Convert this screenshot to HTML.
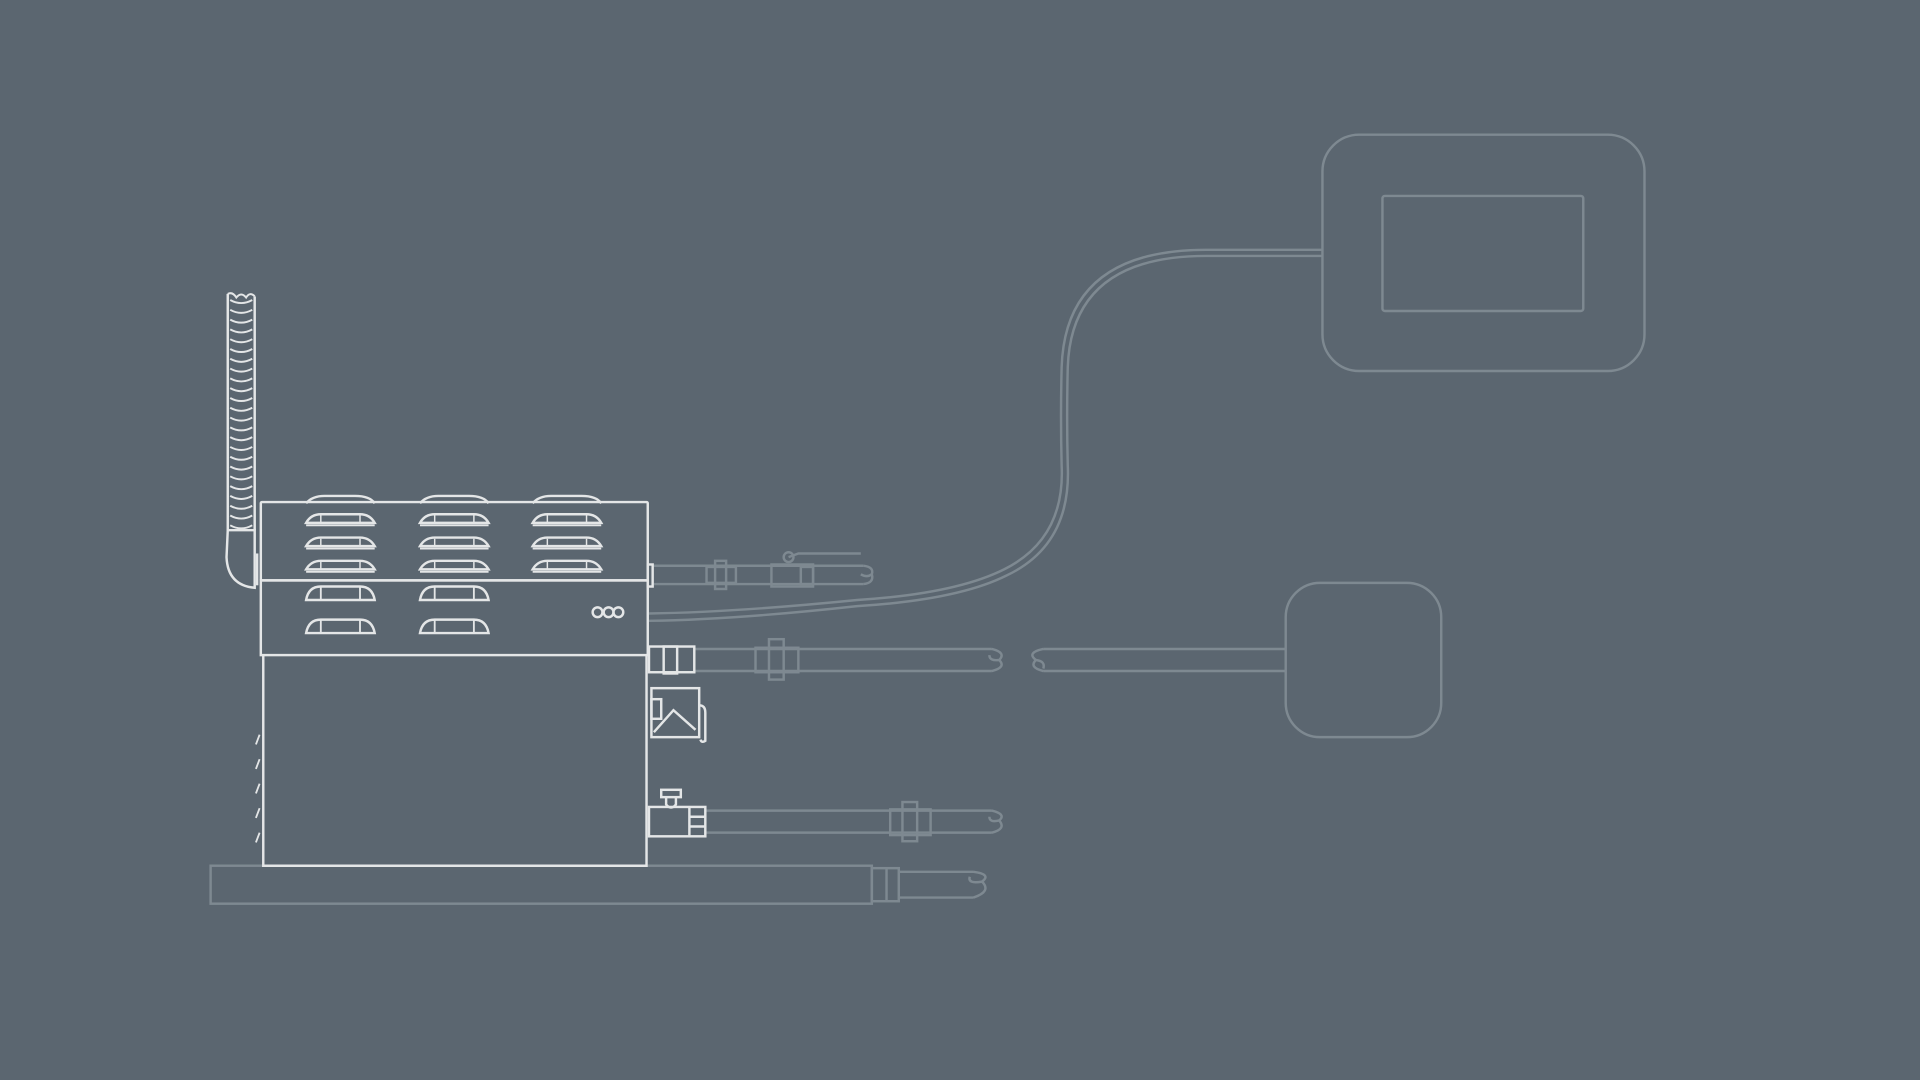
<!DOCTYPE html>
<html><head><meta charset="utf-8"><style>html,body{margin:0;padding:0;background:#5b6670;}svg{display:block}</style></head>
<body>
<svg width="1920" height="1080" viewBox="0 0 1568 882" xmlns="http://www.w3.org/2000/svg">
<rect width="1568" height="882" fill="#5b6670"/>
<defs>
<g id="lv1"><path d="M0,5 Q4,-2 12,-2 L44,-2 Q52,-2 56,5 Z" fill="none" stroke="#e4e6e7" stroke-width="2"/><path d="M0,7 L56,7" stroke="#e4e6e7" stroke-width="1.5"/><path d="M12,-1 V5 M44,-1 V5" stroke="#e4e6e7" stroke-width="1.2"/></g>
<g id="lv2"><path d="M0,7 Q2,-4 12,-4 L44,-4 Q54,-4 56,7 Z" fill="none" stroke="#e4e6e7" stroke-width="2"/><path d="M12,-4 V7 M44,-4 V7" stroke="#e4e6e7" stroke-width="1.5"/></g>
</defs>
<!-- dim parts -->
<g fill="none" stroke="#7e8991" stroke-width="2">
<rect x="1080" y="110" width="263" height="193" rx="30"/>
<rect x="1129" y="160" width="164" height="94" rx="2"/>
<rect x="1050" y="476" width="127" height="126" rx="28"/>
<path d="M1080,204 L985,204 Q870,204 867,300 Q866,340 867,380 Q870,440 820,465 Q780,485 700,490 Q600,500 530,501"/>
<path d="M1080,209 L985,209 Q875,209 872,300 Q871,340 872,380 Q875,445 822,470 Q782,490 700,495 Q600,506 530,507"/>
<path d="M534,462 H705 M534,477 H705"/>
<path d="M705,462 Q714,463 712,469 Q708,472 703,469 M705,477 Q714,476 712,469"/>
<rect x="577" y="463" width="24" height="13"/><rect x="584" y="458" width="9" height="23"/>
<rect x="630" y="461" width="34" height="18"/><rect x="654" y="463" width="10" height="14"/>
<circle cx="644" cy="455" r="4"/><path d="M644,455 L652,452 H703"/>
<path d="M568,530 H810 M568,548 H810 M810,530 Q822,533 816,539 Q808,540 808,535 M810,548 Q822,545 816,539"/>
<path d="M1050,530 H852 M1050,548 H852 M852,530 Q838,533 846,539 Q854,540 852,546 M852,548 Q840,545 846,539"/>
<rect x="617" y="529" width="35" height="20"/><rect x="628" y="522" width="12" height="33"/>
<path d="M577,662 H810 M577,680 H810 M810,662 Q822,665 816,670 Q808,672 808,667 M810,680 Q822,677 816,670"/>
<rect x="727" y="661" width="33" height="21"/><rect x="737" y="655" width="12" height="32"/>
<rect x="172" y="707" width="540" height="31"/>
<rect x="712" y="709" width="22" height="27"/><path d="M724,709 V736"/>
<path d="M734,712 H795 M734,733 H795 M795,712 Q810,714 802,720 Q790,722 792,716 M795,733 Q810,728 802,720"/>
</g>
<!-- bright parts -->
<g fill="none" stroke="#e4e6e7" stroke-width="2">
<rect x="213" y="410" width="316" height="64" rx="1"/>
<rect x="213" y="474" width="316" height="61"/>
<path d="M215,535 V707 H528 V535"/>
<path d="M250,411 Q255,405 265,405 L290,405 Q302,405 306,411 M343,411 Q348,405 358,405 L383,405 Q395,405 399,411 M435,411 Q440,405 450,405 L475,405 Q487,405 491,411" stroke-width="2"/>
<circle cx="488" cy="500" r="4"/><circle cx="497" cy="500" r="4"/><circle cx="505" cy="500" r="4"/>
<rect x="529" y="461" width="4" height="18"/>
<path d="M186,240 V433 M208,242 V433"/>
<path d="M186,433 H208 V480 Q186,478 185,455 Z"/>
<path d="M210,452 V478"/>
<rect x="530" y="528" width="37" height="21"/><rect x="542" y="528" width="11" height="22"/>
<rect x="532" y="562" width="39" height="40"/><path d="M534,598 L550,580 L568,596"/><path d="M571,576 Q576,576 576,582 V605 Q573,607 572,604"/><rect x="532" y="571" width="8" height="16"/>
<rect x="530" y="659" width="46" height="24"/><path d="M563,659 V683 M563,667 H576 M563,675 H576"/>
<rect x="540" y="645" width="16" height="6"/><path d="M544,651 V657 Q548,662 552,657 V651"/>
<path d="M212,600 l-3,8 M212,620 l-3,8 M212,640 l-3,8 M212,660 l-3,8 M212,680 l-3,8" stroke-width="1.5"/>
</g>
<g fill="none" stroke="#e4e6e7" stroke-width="1.6">
<path d="M188,245 Q197,250 206,245 M188,253 Q197,258 206,253 M188,261 Q197,266 206,261 M188,269 Q197,274 206,269 M188,277 Q197,282 206,277 M188,285 Q197,290 206,285 M188,293 Q197,298 206,293 M188,301 Q197,306 206,301 M188,309 Q197,314 206,309 M188,317 Q197,322 206,317 M188,325 Q197,330 206,325 M188,333 Q197,338 206,333 M188,341 Q197,346 206,341 M188,349 Q197,354 206,349 M188,357 Q197,362 206,357 M188,365 Q197,370 206,365 M188,373 Q197,378 206,373 M188,381 Q197,386 206,381 M188,389 Q197,394 206,389 M188,397 Q197,402 206,397 M188,405 Q197,410 206,405 M188,413 Q197,418 206,413 M188,421 Q197,426 206,421 M188,429 Q197,434 206,429"/>
<path d="M186,240 Q190,238 193,243 Q197,238 201,243 Q204,238 208,242"/>
</g>
<use href="#lv1" x="250" y="422"/><use href="#lv1" x="343" y="422"/><use href="#lv1" x="435" y="422"/>
<use href="#lv1" x="250" y="441"/><use href="#lv1" x="343" y="441"/><use href="#lv1" x="435" y="441"/>
<use href="#lv1" x="250" y="460"/><use href="#lv1" x="343" y="460"/><use href="#lv1" x="435" y="460"/>
<use href="#lv2" x="250" y="483"/><use href="#lv2" x="343" y="483"/>
<use href="#lv2" x="250" y="510"/><use href="#lv2" x="343" y="510"/>
</svg>
</body></html>
